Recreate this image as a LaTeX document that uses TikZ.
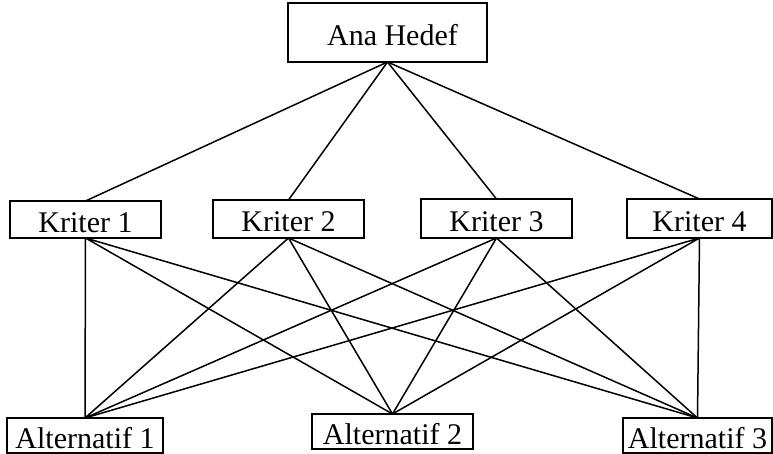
\documentclass[tikz,border=0pt]{standalone}
\usepackage{fontspec}
\setmainfont{Liberation Serif}
\usepackage{tikz}
\usetikzlibrary{positioning}

\tikzset{
    kutu/.style={draw, line width=1.8pt, inner sep=0pt, outer sep=0pt,
        text height=26pt, text depth=0pt,
        font=\fontsize{30}{34}\selectfont},
    bag/.style={line width=1.5pt}
}

\begin{document}
\begin{tikzpicture}[x=1pt, y=-1pt]
    \useasboundingbox (0,0) rectangle (773,454);

    % Ana hedef
    \node[kutu, minimum width=199pt, minimum height=59pt] (ana) at (387.5,32.5) {\hspace{10pt}Ana Hedef};

    % Kriterler
    \node[kutu, minimum width=151pt, minimum height=37pt] (k1) at (85.5,219.5) {Kriter 1};
    \node[kutu, minimum width=151pt, minimum height=38pt] (k2) at (288.5,219) {Kriter 2};
    \node[kutu, minimum width=151pt, minimum height=39pt] (k3) at (496.5,218.5) {Kriter 3};
    \node[kutu, minimum width=145pt, minimum height=39pt] (k4) at (699.5,218.5) {Kriter 4};

    % Alternatifler
    \node[kutu, minimum width=156pt, minimum height=35pt] (a1) at (85,435.5) {Alternatif 1};
    \node[kutu, minimum width=161pt, minimum height=35pt] (a2) at (392.5,431.5) {Alternatif 2};
    \node[kutu, minimum width=149pt, minimum height=35pt] (a3) at (697.5,435.5) {Alternatif 3};

    % Ana hedef -- kriterler
    \draw[bag] (ana.south) -- (k1.north);
    \draw[bag] (ana.south) -- (k2.north);
    \draw[bag] (ana.south) -- (k3.north);
    \draw[bag] (ana.south) -- (k4.north);

    % Kriterler -- alternatifler
    \draw[bag] (k1.south) -- (a1.north) (k1.south) -- (a2.north) (k1.south) -- (a3.north);
    \draw[bag] (k2.south) -- (a1.north) (k2.south) -- (a2.north) (k2.south) -- (a3.north);
    \draw[bag] (k3.south) -- (a1.north) (k3.south) -- (a2.north) (k3.south) -- (a3.north);
    \draw[bag] (k4.south) -- (a1.north) (k4.south) -- (a2.north) (k4.south) -- (a3.north);
\end{tikzpicture}
\end{document}
